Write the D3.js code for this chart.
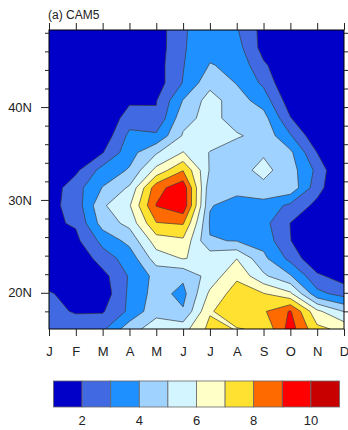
<!DOCTYPE html>
<html>
<head>
<meta charset="utf-8">
<script src="https://cdn.jsdelivr.net/npm/d3@7"></script>
<style>
  html, body { margin: 0; padding: 0; background: #fff; }
  svg { display: block; }
  text { font-family: "Liberation Sans", Arial, Helvetica, sans-serif; fill: #222; }
</style>
</head>
<body>
<svg id="chart" width="348" height="430"></svg>
<script>
// Monthly climatology, one array per month, values from south (16.1N) to north (48.3N)
const months = ["J", "F", "M", "A", "M", "J", "J", "A", "S", "O", "N", "D"];
const lats = [16.1, 18.0, 19.9, 21.8, 23.7, 25.6, 27.5, 29.4, 31.3, 33.2,
              35.1, 36.9, 38.8, 40.7, 42.6, 44.5, 46.4, 48.3];

const jan = [2.4, 2.15, 2.1, 1.4, 1.3, 1.5, 1.8, 1.69, 1.4, 1.3, 0.8, 0.7, 0.7, 0.7, 0.7, 0.7, 0.7, 0.7];
const feb = [2.3, 1.95, 1.6, 1.2, 1.1, 1.75, 2.12, 2.41, 2.59, 1.78, 1.0, 0.8, 0.8, 0.7, 0.7, 0.7, 0.7, 0.7];
const mar = [2.8, 1.9, 1.38, 1.65, 2.53, 3.3, 4.44, 4.85, 4.05, 3.37, 1.95, 1.3, 1.0, 0.8, 0.8, 0.8, 0.8, 0.8];
const apr = [4.6, 3.2, 3.2, 3.1, 3.42, 4.3, 5.3, 5.9, 5.14, 4.1, 3.6, 3.25, 2.54, 1.8, 1.0, 1.0, 1.0, 1.0];
const may = [5.5, 4.7, 4.4, 4.31, 5.5, 6.5, 7.95, 9.05, 8.6, 6.3, 4.9, 3.2, 2.13, 1.95, 1.49, 1.54, 1.45, 1.43];
const jun = [5.6, 4.1, 3.7, 4.2, 6.05, 6.8, 8.1, 9.8, 9.7, 7.95, 6.05, 5.1, 4.7, 4.05, 3.05, 2.95, 2.9, 2.9];
const jul = [7.3, 6.9, 6.2, 5.4, 5.7, 4.05, 3.9, 4.05, 4.3, 4.9, 4.95, 5.6, 5.31, 5.43, 4.7, 4.05, 3.7, 3.5];
const aug = [6.95, 7.6, 7.5, 6.8, 5.98, 3.97, 3.5, 3.7, 4.25, 4.6, 4.5, 5.1, 4.61, 4.45, 3.95, 3.8, 3.4, 3.09];
const sep = [7.14, 7.87, 7.05, 5.19, 4.24, 3.64, 3.32, 3.6, 4.73, 5.3, 4.88, 4.7, 4.4, 3.55, 2.8, 2.15, 1.62, 1.64];
const oct = [9.47, 9.1, 6.2, 4.1, 2.7, 2.02, 1.98, 2.78, 4.7, 4.44, 4.2, 3.1, 2.05, 1.42, 0.9, 1.2, 1.1, 1.1];
const nov = [7.25, 6.23, 3.3, 2.2, 1.07, 1.3, 1.0, 1.71, 2.4, 2.75, 1.98, 1.2, 0.9, 0.9, 0.8, 0.9, 0.9, 0.9];
const dec = [6.73, 4.95, 2.6, 1.5, 0.9, 1.0, 0.8, 0.8, 0.8, 0.6, 0.9, 0.8, 0.8, 0.8, 0.8, 0.8, 0.8, 0.8];

const levels = [2, 3, 4, 5, 6, 7, 8, 9, 10];
const palette = ["#0000c8", "#4169e1", "#1e90ff", "#a0d2ff", "#d2f5ff",
                 "#ffffc8", "#ffe132", "#ff6a00", "#ff0000", "#c80000"];
const latTicks = [20, 30, 40];
const latLabels = ["20N", "30N", "40N"];
const barLabels = [2, 4, 6, 8, 10];

const svg = d3.select("#chart");
const plot = { left: 49, right: 344, top: 30, bottom: 329 };

const nx = months.length, ny = lats.length;
const columns = [jan, feb, mar, apr, may, jun, jul, aug, sep, oct, nov, dec];
const grid = new Array(nx * ny);
for (let j = 0; j < ny; j++) {
  for (let i = 0; i < nx; i++) grid[j * nx + i] = columns[i][j];
}

const x = d3.scaleLinear().domain([0, nx - 1]).range([plot.left, plot.right]);
const y = d3.scaleLinear().domain([lats[0], lats[ny - 1]]).range([plot.bottom, plot.top]);
const rowLat = d3.scaleLinear().domain(d3.range(ny)).range(lats);

// d3.contours puts grid value k at coordinate k + 0.5
const toScreen = d3.geoTransform({
  point(px, py) { this.stream.point(x(px - 0.5), y(rowLat(py - 0.5))); }
});
const path = d3.geoPath(toScreen);

const bands = d3.contours().size([nx, ny]).thresholds(levels)(grid);

svg.append("clipPath").attr("id", "plotClip")
  .append("rect")
  .attr("x", plot.left).attr("y", plot.top)
  .attr("width", plot.right - plot.left).attr("height", plot.bottom - plot.top);

const g = svg.append("g").attr("clip-path", "url(#plotClip)");
g.append("rect")
  .attr("x", plot.left).attr("y", plot.top)
  .attr("width", plot.right - plot.left).attr("height", plot.bottom - plot.top)
  .attr("fill", palette[0]);

g.selectAll("path.band")
  .data(bands)
  .join("path")
  .attr("class", "band")
  .attr("d", path)
  .attr("fill", (d, k) => palette[k + 1])
  .attr("fill-rule", "evenodd")
  .attr("stroke", "#3c3c3c")
  .attr("stroke-width", 0.7)
  .attr("stroke-linejoin", "round");

// frame
svg.append("rect")
  .attr("x", plot.left).attr("y", plot.top)
  .attr("width", plot.right - plot.left).attr("height", plot.bottom - plot.top)
  .attr("fill", "none").attr("stroke", "#000").attr("stroke-width", 1);

// month axes (bottom with labels, top ticks only)
const monthIdx = d3.range(nx);
const bottomAxis = d3.axisBottom(x).tickValues(monthIdx).tickFormat(i => months[i])
  .tickSizeInner(7).tickSizeOuter(0).tickPadding(11);
const bx = svg.append("g").attr("transform", `translate(0,${plot.bottom})`).call(bottomAxis);
bx.select(".domain").remove();
bx.selectAll("text").attr("font-size", 13).style("font-family", "'Liberation Sans', Arial, sans-serif").attr("fill", "#222");

const topAxis = d3.axisTop(x).tickValues(monthIdx).tickFormat("").tickSizeInner(7).tickSizeOuter(0);
const tx = svg.append("g").attr("transform", `translate(0,${plot.top})`).call(topAxis);
tx.select(".domain").remove();

// latitude axes: labelled every 10 degrees, minor every 2 degrees
const minorLat = d3.range(18, 49, 2).filter(v => latTicks.indexOf(v) < 0);
const leftMajor = d3.axisLeft(y).tickValues(latTicks).tickFormat((d, i) => latLabels[i])
  .tickSizeInner(8).tickSizeOuter(0).tickPadding(9);
const ly = svg.append("g").attr("transform", `translate(${plot.left},0)`).call(leftMajor);
ly.select(".domain").remove();
ly.selectAll("text").attr("font-size", 13).style("font-family", "'Liberation Sans', Arial, sans-serif").attr("fill", "#222");

const leftMinor = d3.axisLeft(y).tickValues(minorLat).tickFormat("").tickSizeInner(4).tickSizeOuter(0);
svg.append("g").attr("transform", `translate(${plot.left},0)`).call(leftMinor).select(".domain").remove();

const rightMajor = d3.axisRight(y).tickValues(latTicks).tickFormat("").tickSizeInner(8).tickSizeOuter(0);
svg.append("g").attr("transform", `translate(${plot.right},0)`).call(rightMajor).select(".domain").remove();
const rightMinor = d3.axisRight(y).tickValues(minorLat).tickFormat("").tickSizeInner(4).tickSizeOuter(0);
svg.append("g").attr("transform", `translate(${plot.right},0)`).call(rightMinor).select(".domain").remove();

svg.selectAll(".tick line").attr("stroke", "#222");

// title
svg.append("text")
  .attr("x", 48).attr("y", 19)
  .attr("font-size", 12)
  .text("(a) CAM5");

// colour bar
const cb = { left: 53.5, right: 339.5, top: 381, bottom: 407 };
const cbx = d3.scaleLinear().domain([1, levels.length + 2]).range([cb.left, cb.right]);
const cbg = svg.append("g");
cbg.selectAll("rect.box")
  .data(palette)
  .join("rect")
  .attr("class", "box")
  .attr("x", (d, k) => cbx(k + 1))
  .attr("y", cb.top)
  .attr("width", (d, k) => cbx(k + 2) - cbx(k + 1))
  .attr("height", cb.bottom - cb.top)
  .attr("fill", d => d)
  .attr("stroke", "#666")
  .attr("stroke-width", 0.8);

cbg.selectAll("text.lab")
  .data(barLabels)
  .join("text")
  .attr("class", "lab")
  .attr("x", d => cbx(d))
  .attr("y", 425)
  .attr("text-anchor", "middle")
  .attr("font-size", 13)
  .text(d => d);
</script>
</body>
</html>
